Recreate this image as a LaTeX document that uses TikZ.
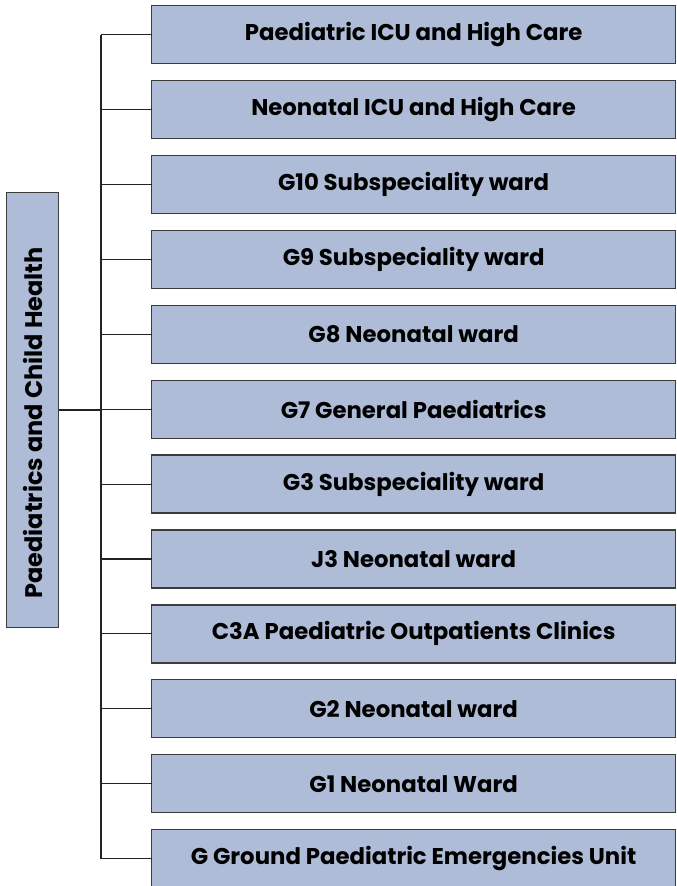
\documentclass[tikz,border=0pt]{standalone}
\usepackage{fontspec}
\setmainfont{Poppins}
\usetikzlibrary{matrix}
\definecolor{wardfill}{RGB}{175,188,216}
\definecolor{wardline}{RGB}{60,60,60}
\definecolor{linkline}{RGB}{35,35,35}

\begin{document}
\begin{tikzpicture}[x=1pt,y=-1pt,font=\bfseries\fontsize{22.8}{26}\selectfont,
	ward/.style={draw=wardline,fill=wardfill,line width=1.3pt,inner sep=0pt,outer sep=0pt},
	link/.style={draw=linkline,line width=1.1pt}]
	\useasboundingbox (0,0) rectangle (677,886);
	\matrix[matrix of nodes,anchor=north west,inner sep=0pt,outer sep=0pt,row sep=15.6pt,nodes={ward,minimum width=524pt,minimum height=58pt},ampersand replacement=\&] at (151,5)
	{
		|(u1)| Paediatric ICU and High Care \\
		|(u2)| Neonatal ICU and High Care \\
		|(u3)| G10 Subspeciality ward \\
		|(u4)| G9 Subspeciality ward \\
		|(u5)| G8 Neonatal ward \\
		|(u6)| G7 General Paediatrics \\
		|(u7)| G3 Subspeciality ward \\
		|(u8)| J3 Neonatal ward \\
		|(u9)| C3A Paediatric Outpatients Clinics \\
		|(u10)| G2 Neonatal ward \\
		|(u11)| G1 Neonatal Ward \\
		|(u12)| G Ground Paediatric Emergencies Unit \\
	};
	\node[ward,rotate=90,minimum width=435pt,minimum height=52pt,font=\bfseries\fontsize{24}{28}\selectfont] (root) at (32.5,410) {Paediatrics and Child Health\hspace*{26pt}};
	\coordinate (trunk) at (101,0);
	\draw[link] (root.south) -- (trunk |- root.south);
	\draw[link] (trunk |- u1) -- (trunk |- u12);
	\foreach \i in {1,...,12}
		\draw[link] (trunk |- u\i) -- (u\i.west);
\end{tikzpicture}
\end{document}
